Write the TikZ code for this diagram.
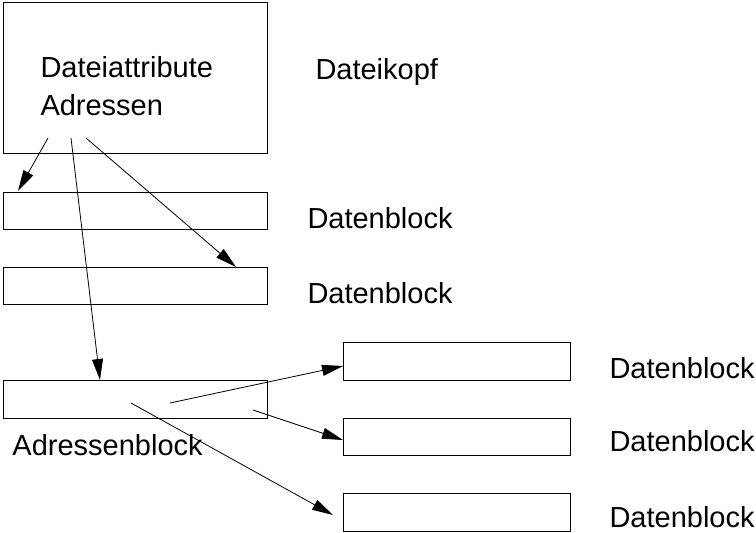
\documentclass[tikz,border=0pt]{standalone}
\usepackage{fontspec}
\setmainfont{Liberation Sans}
\usetikzlibrary{arrows.meta}
\begin{document}
\begin{tikzpicture}[x=1pt,y=-1pt,line width=1pt,
  blk/.style={draw,rectangle,inner sep=0pt,anchor=north west},
  lbl/.style={inner sep=0pt,anchor=base west,font=\fontsize{29}{38}\selectfont},
  ptr/.style={-{Triangle[length=21pt,width=11pt]},line width=0.8pt}]
\useasboundingbox (0,0) rectangle (756,533);

% file header (anchor base west sits on the last line's baseline)
\node[blk,minimum width=264pt,minimum height=151pt] (kopf) at (3,2) {};
\node[lbl,align=left] (attr) at (40,115) {Dateiattribute\\Adressen};
\node[lbl] (kopflbl) at (315,79) {Dateikopf};

% direct data blocks
\node[blk,minimum width=264pt,minimum height=37pt] (db1) at (3,192) {};
\node[blk,minimum width=264pt,minimum height=37pt] (db2) at (3,267) {};
\node[lbl] (db1lbl) at (307,228) {Datenblock};
\node[lbl] (db2lbl) at (307,303) {Datenblock};

% address block
\node[blk,minimum width=264pt,minimum height=38pt] (ab) at (3,380) {};
\node[lbl] (ablbl) at (12,455) {Adressenblock};

% indirect data blocks
\node[blk,minimum width=227pt,minimum height=38pt] (db3) at (343,342) {};
\node[blk,minimum width=227pt,minimum height=37pt] (db4) at (343,418) {};
\node[blk,minimum width=227pt,minimum height=38pt] (db5) at (343,493) {};
\node[lbl] (db3lbl) at (609,378) {Datenblock};
\node[lbl] (db4lbl) at (609,451) {Datenblock};
\node[lbl] (db5lbl) at (609,527) {Datenblock};

% pointer origins and targets
\coordinate (k1) at (48,138);
\coordinate (k2) at (71,138);
\coordinate (k3) at (86,138);
\coordinate (t1) at (18,191);
\coordinate (t2) at (100,380);
\coordinate (t3) at (236,267);
\coordinate (a1) at (170,403);
\coordinate (a2) at (253,410);
\coordinate (a3) at (131,403);
\coordinate (t4) at (343,366);
\coordinate (t5) at (343,440);
\coordinate (t6) at (333,515);

\draw[ptr] (k1) -- (t1);
\draw[ptr] (k2) -- (t2);
\draw[ptr] (k3) -- (t3);
\draw[ptr] (a1) -- (t4);
\draw[ptr] (a2) -- (t5);
\draw[ptr] (a3) -- (t6);
\end{tikzpicture}
\end{document}
